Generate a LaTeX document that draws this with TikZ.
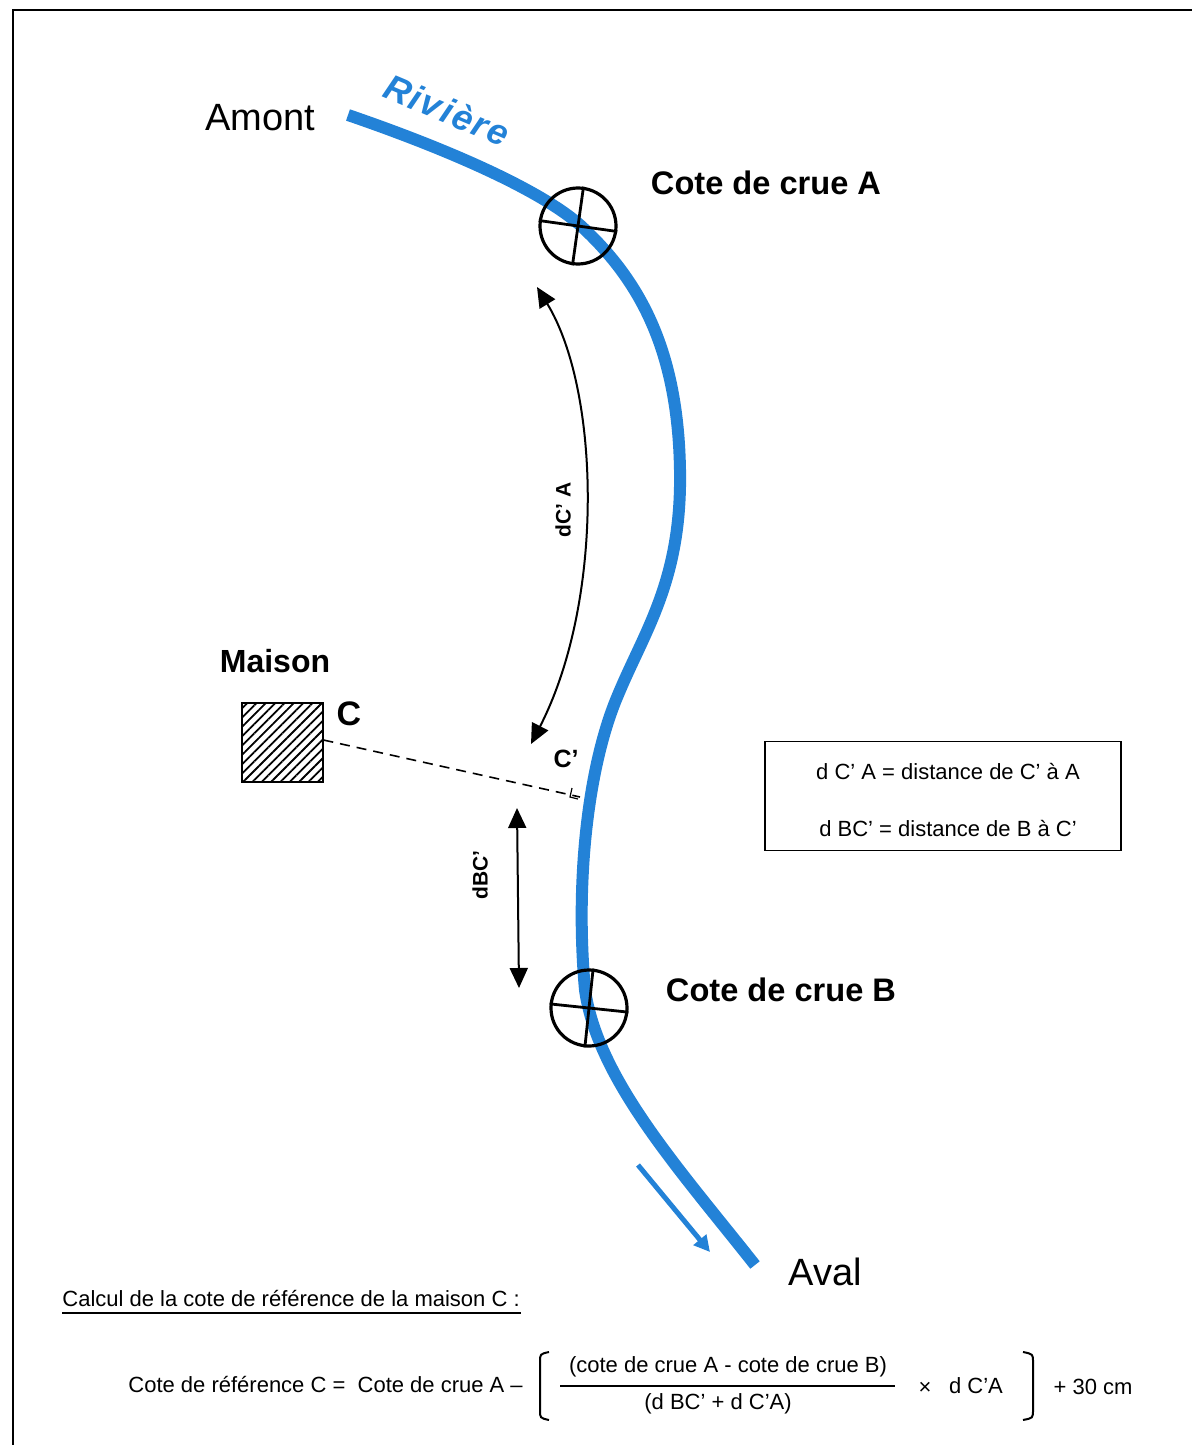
\documentclass[tikz,border=0pt]{standalone}
\usepackage{fontspec}
\setmainfont{Liberation Sans}
\usepackage{tikz}
\usetikzlibrary{arrows.meta,patterns.meta}
\definecolor{rivblue}{RGB}{35,130,215}
\tikzset{
  repere/.style={draw,circle,line width=1.6pt,minimum size=38pt,inner sep=0pt},
  grostitre/.style={font=\fontsize{16.3}{19}\selectfont\bfseries},
  lieu/.style={font=\fontsize{19}{22}\selectfont},
  cote/.style={font=\fontsize{11}{13}\selectfont,inner sep=0pt},
  fleche/.style={line width=1pt,{Triangle[length=10pt,width=9pt]}-{Triangle[length=10pt,width=9pt]}}
}
\begin{document}
\begin{tikzpicture}[x=0.5pt,y=-0.5pt]
          \useasboundingbox (0,0) rectangle (1192,1445);
          \draw[line width=1pt] (12,10) -- (1192,10);
          \draw[line width=1pt] (13,10) -- (13,1445);
          \draw[rivblue,line width=6pt] (348,115) .. controls (450,150) and (540,190) .. (580,225) %
            .. controls (640,280) and (678,350) .. (680,470) %
            .. controls (682,580) and (645,630) .. (618,695) %
            .. controls (588,765) and (575,880) .. (585,990) %
            .. controls (598,1080) and (680,1170) .. (755,1265);
          \node[rotate=-23,text=rivblue,font=\fontsize{18}{22}\selectfont\bfseries\itshape] %
            (riviere) at (447,110) {R\kern1pt i\kern1pt v\kern1pt i\kern1pt è\kern1pt r\kern1pt e};
          \node[lieu] (amont) at (260,118) {Amont};
          \node[lieu] (aval) at (825,1272) {Aval};
          \node[repere] (cA) at (578,226) {};
          \draw[line width=1.4pt] (cA.172) -- (cA.352) (cA.82) -- (cA.262);
          \node[repere] (cB) at (589,1008) {};
          \draw[line width=1.4pt] (cB.174) -- (cB.354) (cB.84) -- (cB.264);
          \node[grostitre] (tA) at (766,183) {Cote de crue A};
          \node[grostitre] (tB) at (781,990) {Cote de crue B};
          \node[draw,line width=1pt,minimum width=40.5pt,minimum height=39.5pt,%
            pattern={Lines[angle=45,distance=3.3pt,line width=0.9pt]}] (maison) at (282,742) {};
          \node[font=\fontsize{16}{19}\selectfont\bfseries] (tmaison) at (275,661) {Maison};
          \node[font=\fontsize{17}{20}\selectfont\bfseries] (tC) at (349,714) {C};
          \coordinate (pied) at (580,797);
          \draw[dash pattern=on 5pt off 3.5pt,line width=0.8pt] (maison.east) ++(0,-2) -- (pied);
          \draw[line width=0.6pt] (572,788) -- (570,797) -- (578,799);
          \node[font=\fontsize{12.5}{15}\selectfont\bfseries] (tCp) at (566,759) {C'};
          \coordinate (hautA) at (537,287);
          \coordinate (basA) at (531,744);
          \draw[fleche] (hautA) .. controls (600,390) and (605,600) .. (basA);
          \node[rotate=90,font=\fontsize{10.5}{12}\selectfont\bfseries] (tdCA) at (563,510) {dC' A};
          \coordinate (hautB) at (517,808);
          \coordinate (basB) at (519,988);
          \draw[fleche] (hautB) -- (basB);
          \node[rotate=90,font=\fontsize{10.5}{12}\selectfont\bfseries] (tdBC) at (480,875) {dBC'};
          \node[draw,line width=0.8pt,minimum width=178pt,minimum height=54.5pt] (legende) at (943,796) {};
          \node[font=\fontsize{11}{13}\selectfont] (leg1) at (948,771) {d C' A = distance de C' à A};
          \node[font=\fontsize{11}{13}\selectfont] (leg2) at (948,828) {d BC' = distance de B à C'};
          \coordinate (flux1) at (638,1165);
          \coordinate (flux2) at (710,1252);
          \draw[rivblue,line width=2.5pt,-{Triangle[length=8pt,width=8pt]}] (flux1) -- (flux2);
          \node[cote,anchor=base west] (calcul) at (62,1306) {Calcul de la cote de référence de la maison C :};
          \draw[line width=0.8pt] (calcul.base west) ++(0,7) -- ++(459,0);
          \node[cote,anchor=base west] (gauche) at (128,1392) {Cote de référence C = \ Cote de crue A –};
          \draw[line width=1pt] (549,1352) .. controls (540,1354) .. (540,1362) -- (540,1410) %
            .. controls (540,1418) .. (549,1420);
          \node[cote] (num) at (728,1367) {(cote de crue A - cote de crue B)};
          \draw[line width=1pt] (560,1386) -- (895,1386);
          \node[cote] (den) at (718,1404) {(d BC' + d C'A)};
          \node[cote] (fois) at (925,1388) {×};
          \node[cote] (dca) at (976,1386) {d C'A};
          \draw[line width=1pt] (1023,1352) .. controls (1033,1354) .. (1033,1362) -- (1033,1410) %
            .. controls (1033,1418) .. (1023,1420);
          \node[cote] (plus) at (1093,1387) {+ 30 cm};
        \end{tikzpicture}
\end{document}
